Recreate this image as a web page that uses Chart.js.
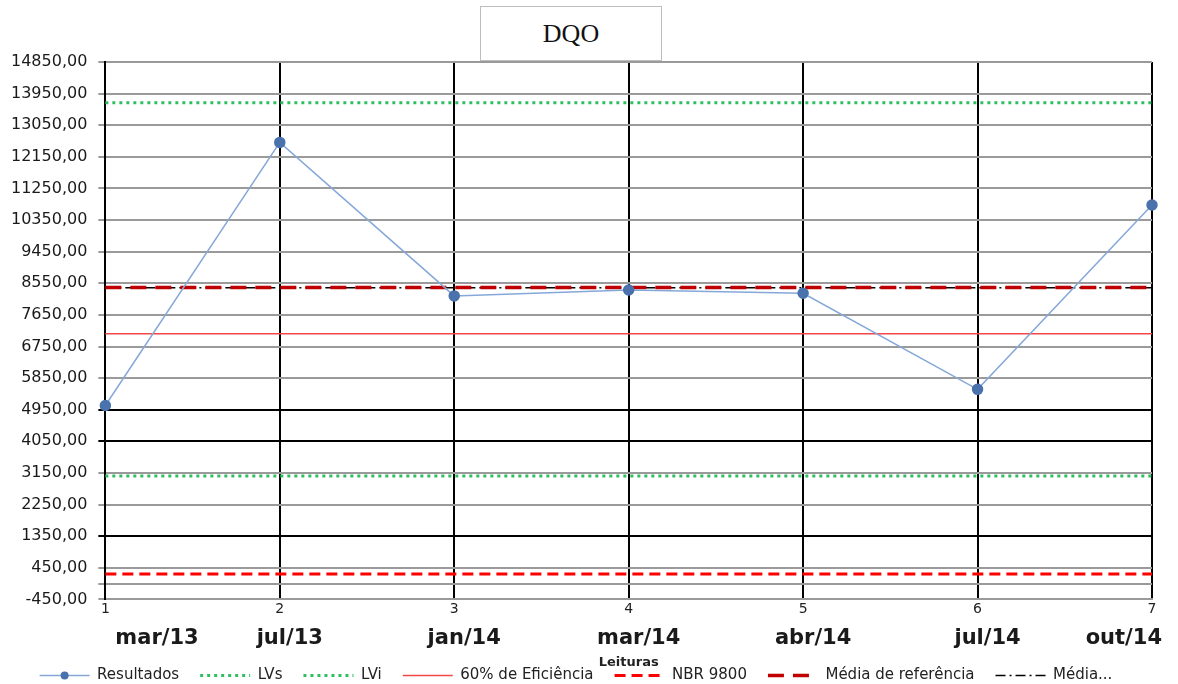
<!DOCTYPE html>
<html lang="pt">
<head>
    <meta charset="UTF-8">
    <title>DQO</title>
    <script src="https://cdn.jsdelivr.net/npm/chart.js"></script>
    <style>
        body { margin: 0; background: #fff; }
        #wrap { position: relative; width: 1178px; height: 684px; }
        #titleBox {
            position: absolute; left: 480px; top: 6px; width: 182px; height: 55px;
            border: 1px solid #bdbdbd; background: #fff; box-sizing: border-box;
            font-family: 'Liberation Serif', serif; font-size: 26px; color: #111;
            display: flex; align-items: center; justify-content: center;
        }
    </style>
</head>
<body>
    <div id="wrap">
        <canvas id="dqoChart" width="1178" height="684"></canvas>
        <div id="titleBox">DQO</div>
    </div>

    <script>
        // dados
        const categories = ['1', '2', '3', '4', '5', '6', '7'];
        const dateLabels = ['mar/13', 'jul/13', 'jan/14', 'mar/14', 'abr/14', 'jul/14', 'out/14'];
        const resultados = [5070, 12560, 8190, 8360, 8265, 5530, 10780];
        const lvs = [13690, 13690, 13690, 13690, 13690, 13690, 13690];
        const lvi = [3060, 3060, 3060, 3060, 3060, 3060, 3060];
        const eficiencia60 = [7110, 7110, 7110, 7110, 7110, 7110, 7110];
        const nbr9800 = [270, 270, 270, 270, 270, 270, 270];
        const mediaReferencia = [8430, 8430, 8430, 8430, 8430, 8430, 8430];
        const media = [8420, 8420, 8420, 8420, 8420, 8420, 8420];
        const yMin = -450, yMax = 14850, yStep = 900;
        const blackGridValues = [4950, 4050, 1350];

        const font = 'DejaVu Sans';
        const legendShift = 23;

        // legenda sobreposta ao titulo do eixo, com amostras tracejadas
        const legendLines = {
            id: 'legendLines',
            beforeInit(chart) {
                const legend = chart.legend;
                const fit = legend.fit;
                legend.fit = function () {
                    fit.call(this);
                    this.height -= 32;
                };
                const draw = legend.draw;
                legend.draw = function () {
                    const ctx = this.ctx;
                    const opts = this.options.labels;
                    const bottom = this.bottom;
                    ctx.save();
                    ctx.translate(0, -legendShift);
                    this.bottom = bottom + legendShift + 20; // evita o recorte do texto
                    draw.call(this);
                    this.bottom = bottom;
                    this.legendHitBoxes.forEach((box, i) => {
                        const ds = chart.data.datasets[this.legendItems[i].datasetIndex];
                        const y = box.top + opts.font.size / 2;
                        ctx.save();
                        ctx.strokeStyle = ds.borderColor;
                        ctx.lineWidth = ds.borderWidth;
                        ctx.setLineDash(ds.borderDash || []);
                        ctx.beginPath();
                        ctx.moveTo(box.left, y);
                        ctx.lineTo(box.left + opts.boxWidth, y);
                        ctx.stroke();
                        if (ds.pointRadius) {
                            ctx.fillStyle = ds.pointBackgroundColor;
                            ctx.beginPath();
                            ctx.arc(box.left + opts.boxWidth / 2, y, 4, 0, Math.PI * 2);
                            ctx.fill();
                        }
                        ctx.restore();
                    });
                    ctx.restore();
                };
            }
        };

        new Chart(document.getElementById('dqoChart'), {
            type: 'line',
            data: {
                labels: categories,
                datasets: [
                    {
                        label: 'Resultados', data: resultados,
                        borderColor: '#86a8d8', backgroundColor: '#86a8d8', borderWidth: 1.5,
                        pointRadius: 5, pointBackgroundColor: '#4a72ad', pointBorderColor: '#4a72ad',
                        order: 0
                    },
                    {
                        label: 'LVs', data: lvs,
                        borderColor: '#2fbf62', borderWidth: 3, borderDash: [3, 4], pointRadius: 0, order: 1
                    },
                    {
                        label: 'LVi', data: lvi,
                        borderColor: '#2fbf62', borderWidth: 3, borderDash: [3, 4], pointRadius: 0, order: 2
                    },
                    {
                        label: '60% de Eficiência', data: eficiencia60,
                        borderColor: '#f04848', borderWidth: 1.5, pointRadius: 0, order: 3
                    },
                    {
                        label: 'NBR 9800', data: nbr9800,
                        borderColor: '#ff0000', borderWidth: 3, borderDash: [11, 6], pointRadius: 0, order: 4
                    },
                    {
                        label: 'Média de referência', data: mediaReferencia,
                        borderColor: '#c00000', borderWidth: 3.5, borderDash: [16, 9], pointRadius: 0, order: 5
                    },
                    {
                        label: 'Média...', data: media,
                        borderColor: '#000000', borderWidth: 1.5, borderDash: [10, 4, 2, 4], pointRadius: 0, order: 6
                    }
                ]
            },
            options: {
                responsive: false,
                animation: false,
                layout: { padding: { top: 62, left: 0, right: 26, bottom: 0 } },
                plugins: {
                    tooltip: { enabled: false },
                    legend: {
                        position: 'bottom',
                        labels: {
                            boxWidth: 50,
                            boxHeight: 0,
                            padding: 21,
                            color: '#222',
                            font: { family: font, size: 15 },
                            generateLabels: chart => Chart.defaults.plugins.legend.labels.generateLabels(chart)
                                .map(item => ({ ...item, lineWidth: 0 }))
                        }
                    }
                },
                scales: {
                    x: {
                        type: 'category',
                        offset: false,
                        ticks: { color: '#222', font: { family: font, size: 14 }, padding: 2, autoSkip: false, maxRotation: 0 },
                        grid: { color: '#000', lineWidth: 2, drawTicks: false },
                        border: { color: '#9a9a9a', width: 2 }
                    },
                    x2: {
                        type: 'category',
                        labels: dateLabels,
                        offset: false,
                        position: 'bottom',
                        grid: { display: false },
                        border: { display: false },
                        ticks: {
                            color: '#1a1a1a', font: { family: font, size: 21, weight: 'bold' },
                            align: 'inner', labelOffset: 10, padding: -2, autoSkip: false, maxRotation: 0
                        },
                        title: {
                            display: true, text: 'Leituras', color: '#222',
                            font: { family: font, size: 13, weight: 'bold' },
                            padding: { top: 5, bottom: 0 }
                        }
                    },
                    y: {
                        min: yMin,
                        max: yMax,
                        afterBuildTicks: scale => {
                            // linha do eixo horizontal em zero (Excel)
                            scale.ticks.push({ value: 0 });
                            scale.ticks.sort((a, b) => a.value - b.value);
                        },
                        ticks: {
                            stepSize: yStep, autoSkip: false, color: '#1a1a1a', padding: 11,
                            font: { family: font, size: 16 },
                            callback: v => v === 0 ? '' : v.toFixed(2).replace('.', ',')
                        },
                        grid: {
                            color: ctx => (ctx.tick && blackGridValues.includes(ctx.tick.value)) ? '#000' : '#9a9a9a',
                            lineWidth: 2,
                            tickLength: 7
                        },
                        border: { color: '#000', width: 2 }
                    }
                }
            },
            plugins: [legendLines]
        });
    </script>
</body>
</html>
